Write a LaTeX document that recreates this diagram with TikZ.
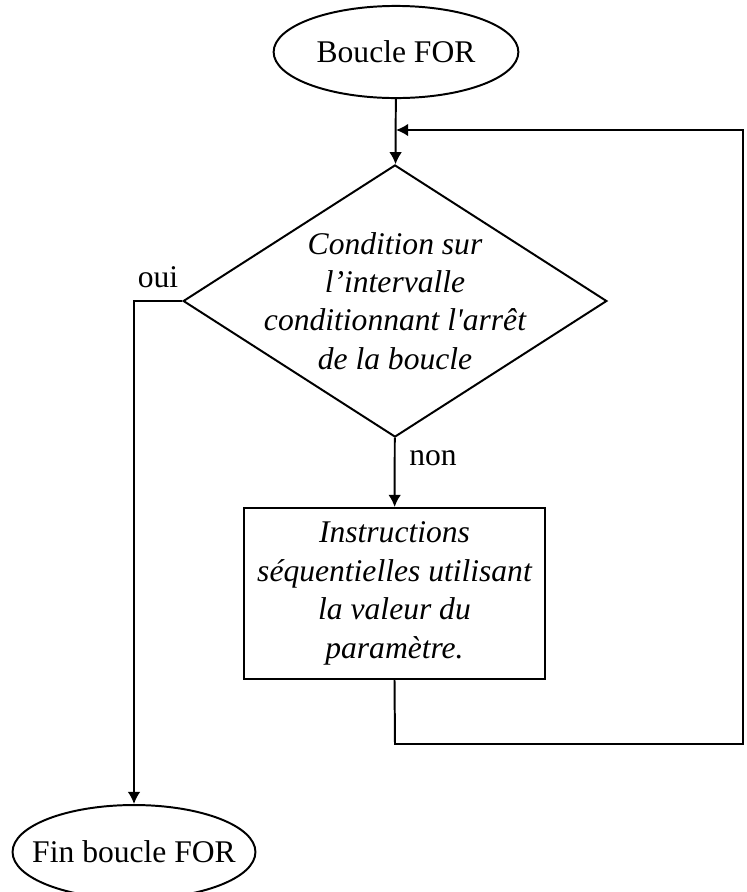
\documentclass[tikz,border=0pt]{standalone}
\usepackage{fontspec}
\setmainfont{Liberation Serif}[Ligatures=TeXOff]
\usetikzlibrary{arrows.meta,shapes.geometric}

\begin{document}
\begin{tikzpicture}[x=0.38pt,y=-0.38pt,
    line width=0.75pt,
    >={Latex[length=4.6pt,width=4.8pt]},
    font=\fontsize{12pt}{14.3pt}\selectfont,
    terminal/.style = {
      draw,
      ellipse,
      inner sep = 0pt,
      minimum width = 93pt,
      minimum height = 35pt
    },
    decision/.style = {
      draw,
      diamond,
      inner sep = 0pt,
      minimum width = 161pt,
      minimum height = 103.4pt
    },
    process/.style = {
      draw,
      rectangle,
      inner sep = 0pt,
      minimum width = 114.4pt,
      minimum height = 65pt
    },
    bodytext/.style = {
      align = center,
      inner sep = 0pt,
      font = \fontsize{12pt}{14.6pt}\selectfont\itshape
    }
  ]
  \useasboundingbox (0,0) rectangle (747,892);

  \node[terminal] (start) at (396,52) {};
  \node (starttext) at (start) {Boucle FOR};
  \node[decision] (cond) at (395,301) {};
  \node[bodytext] (condtext) at (cond) {Condition sur\\l’intervalle\\conditionnant l'arrêt\\de la boucle};
  \node[process] (instr) at (394.5,593.5) {};
  \node[bodytext] (instrtext) at (instr) {Instructions\\séquentielles utilisant\\la valeur du\\paramètre.};
  \node[terminal, minimum width=92.3pt, minimum height=35.7pt] (fin) at (134,852) {};
  \node (fintext) at (fin) {Fin boucle FOR};

  \node (oui) at (158,277) {oui};
  \node (non) at (433,458) {non};

  \coordinate (ouicorner) at (134,301);
  \coordinate (loopin) at (396,130);
  \coordinate (loopa) at (395,744);
  \coordinate (loopb) at (743,744);
  \coordinate (loopc) at (743,130);

  \draw[->] (start) -- (cond);
  \draw[->] (cond) -- (instr);
  \draw[->] (cond.west) -- (ouicorner) -- (fin);
  \draw[->] (instr.south) -- (loopa) -- (loopb) -- (loopc) -- (loopin);
\end{tikzpicture}
\end{document}
